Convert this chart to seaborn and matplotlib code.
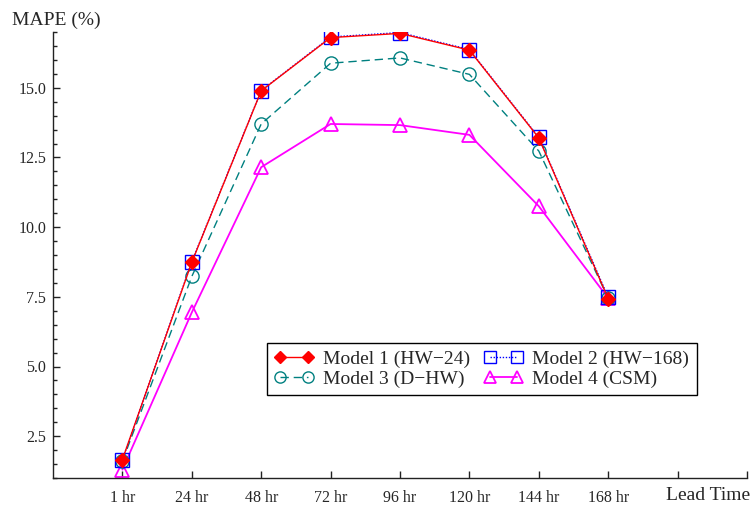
import matplotlib
matplotlib.use("Agg")
import matplotlib.pyplot as plt
import seaborn as sns
import pandas as pd
import numpy as np
from matplotlib.ticker import MultipleLocator, FixedLocator, FormatStrFormatter

lead_times = ["1 hr", "24 hr", "48 hr", "72 hr", "96 hr", "120 hr", "144 hr", "168 hr"]
model1 = [1.66, 8.74, 14.89, 16.80, 16.95, 16.35, 13.20, 7.43]
model2 = [1.66, 8.76, 14.90, 16.82, 16.98, 16.37, 13.22, 7.48]
model3 = [1.60, 8.23, 13.70, 15.88, 16.07, 15.48, 12.73, 7.45]
model4 = [1.30, 6.94, 12.15, 13.70, 13.66, 13.31, 10.75, 7.45]
labels = ["Model 1 (HW\u221224)", "Model 2 (HW\u2212168)", "Model 3 (D\u2212HW)", "Model 4 (CSM)"]

sns.set_style("ticks")
plt.rcParams["font.family"] = ["Liberation Serif", "DejaVu Serif"]

pos = np.arange(1, len(lead_times) + 1)
df = pd.DataFrame({"pos": pos, "m1": model1, "m2": model2, "m3": model3, "m4": model4})

fig = plt.figure(figsize=(7.51, 5.05), dpi=100)
ax = fig.add_axes([53/751, 1-478/505, 694/751, 446/505])

sns.lineplot(data=df, x="pos", y="m4", ax=ax, color="#ff00ff", lw=1.3, marker="^",
             markersize=10, markerfacecolor="none", markeredgecolor="#ff00ff",
             markeredgewidth=1.3, label=labels[3])
sns.lineplot(data=df, x="pos", y="m3", ax=ax, color="#008080", lw=1.0, marker="o",
             markersize=9.5, markerfacecolor="none", markeredgecolor="#008080",
             markeredgewidth=1.0, dashes=(6, 3.5), label=labels[2])
sns.lineplot(data=df, x="pos", y="m2", ax=ax, color="#0000ff", lw=1.0, marker="s",
             markersize=9.5, markerfacecolor="none", markeredgecolor="#0000ff",
             markeredgewidth=1.0, dashes=(1, 1.2), label=labels[1])
sns.lineplot(data=df, x="pos", y="m1", ax=ax, color="#ff0000", lw=1.0, marker="D",
             markersize=7, markerfacecolor="#ff0000", markeredgecolor="#ff0000",
             markeredgewidth=1.0, label=labels[0])

lines = ax.get_lines()
hmap = {l.get_label(): l for l in lines}
order = [labels[0], labels[2], labels[1], labels[3]]
leg = ax.legend([hmap[k] for k in order], order, ncol=2, loc="upper left",
                bbox_to_anchor=(0.308, 0.303), fontsize=14, numpoints=2,
                markerscale=0.85, handlelength=2.0, handletextpad=0.5,
                columnspacing=0.7, labelspacing=0.08, borderpad=0.4,
                borderaxespad=0, fancybox=False, framealpha=1, edgecolor="black")
leg.get_frame().set_linewidth(1.0)

ax.set_xlim(0, 10)
ax.set_ylim(1.0, 17.0)
ax.xaxis.set_major_locator(FixedLocator(list(range(1, 11))))
ax.set_xticklabels(lead_times + ["", ""])
ax.yaxis.set_major_locator(MultipleLocator(2.5))
ax.yaxis.set_minor_locator(MultipleLocator(0.5))
ax.yaxis.set_major_formatter(FormatStrFormatter("%.1f"))
ax.tick_params(axis="both", which="major", direction="in", length=5, width=1,
               labelsize=11.5, color="#222222")
ax.tick_params(axis="y", which="minor", direction="in", length=3, width=1, color="#222222")
ax.tick_params(axis="x", pad=9)
ax.tick_params(axis="y", pad=5)

for s in ["top", "right"]:
    ax.spines[s].set_visible(False)
for s in ["left", "bottom"]:
    ax.spines[s].set_linewidth(1.0)
    ax.spines[s].set_color("#222222")

ax.set_xlabel("Lead Time", fontsize=14)
ax.xaxis.label.set_ha("left")
ax.xaxis.label.set_va("center")
ax.xaxis.set_label_coords((666-53)/694, (478-495)/446)

ax.set_ylabel("MAPE (%)", fontsize=14, rotation=0)
ax.yaxis.label.set_ha("left")
ax.yaxis.label.set_va("center")
ax.yaxis.set_label_coords((12-53)/694, (478-20)/446)

fig.savefig("out.png", dpi=100)
